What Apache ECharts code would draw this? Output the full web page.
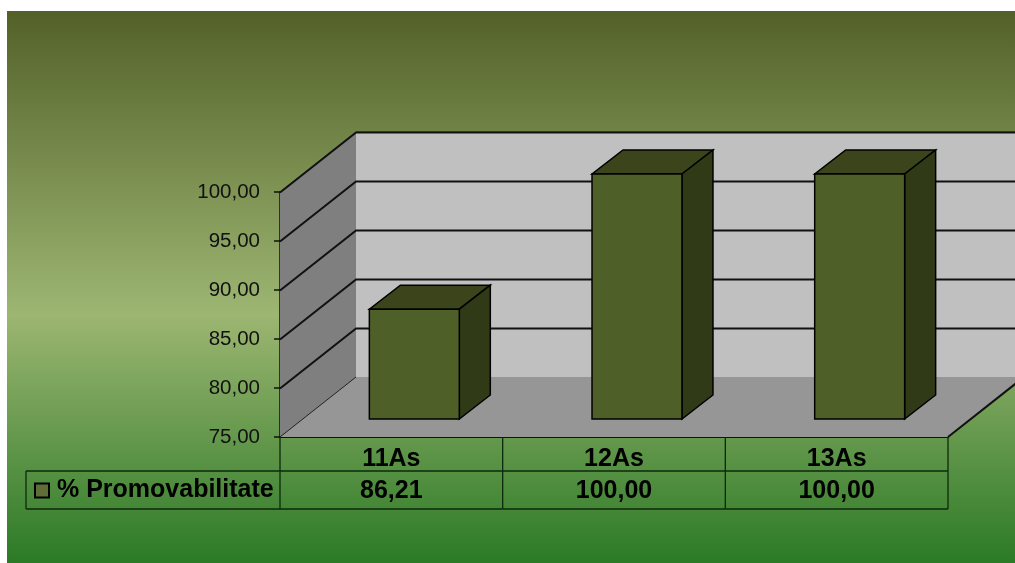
<!DOCTYPE html>
<html>
<head>
<meta charset="utf-8">
<style>html,body{margin:0;padding:0;background:#fff}#c{width:1015px;height:563px}</style>
<script src="https://cdn.jsdelivr.net/npm/echarts@6/dist/echarts.min.js"></script>
</head>
<body>
<div id="c"></div>
<script>
var categories = ['11As', '12As', '13As'];
var promovabilitate = [86.21, 100.00, 100.00];
var seriesName = '% Promovabilitate';
var yMin = 75, yMax = 100, yStep = 5;
var gridValues = [80, 85, 90, 95, 100];

var DEPTH_X = 76, DEPTH_Y = -60;
var BAR_SHIFT_X = 23, BAR_SHIFT_Y = -18, BAR_DX = 31, BAR_DY = -24, BAR_W = 0.404;
var ROW1 = 34, ROW2 = 72, TABLE_LEFT = 26;
var FONT = '"Liberation Sans", Arial, sans-serif';
function fmt(v) { return v.toFixed(2).replace('.', ','); }
function poly(points, fill, stroke, lw) {
  return { type: 'polygon', shape: { points: points }, style: { fill: fill, stroke: stroke || null, lineWidth: lw || 0 } };
}
function line(x1, y1, x2, y2, color, lw) {
  return { type: 'line', shape: { x1: x1, y1: y1, x2: x2, y2: y2 }, style: { stroke: color, lineWidth: lw } };
}

function renderWalls(params, api) {
  var lo = api.coord([0, yMin]), hi = api.coord([0, yMax]);
  var band = api.size([1, 0])[0];
  var x0 = lo[0] - band / 2, x1 = x0 + band * categories.length;
  var yB = lo[1], yT = hi[1];
  return { type: 'group', children: [
    poly([[x0 + DEPTH_X, yT + DEPTH_Y], [x1 + DEPTH_X, yT + DEPTH_Y], [x1 + DEPTH_X, yB + DEPTH_Y], [x0 + DEPTH_X, yB + DEPTH_Y]], '#c0c0c0'),
    poly([[x0, yT], [x0 + DEPTH_X, yT + DEPTH_Y], [x0 + DEPTH_X, yB + DEPTH_Y], [x0, yB]], '#7f7f7f'),
    poly([[x0, yB], [x0 + DEPTH_X, yB + DEPTH_Y], [x1 + DEPTH_X, yB + DEPTH_Y], [x1, yB]], '#969696'),
    line(x0 + DEPTH_X, yT + DEPTH_Y, x1 + DEPTH_X, yT + DEPTH_Y, '#4a4a4a', 1.5),
    line(x0, yT, x0 + DEPTH_X, yT + DEPTH_Y, '#666666', 1),
    line(x0, yB, x0 + DEPTH_X, yB + DEPTH_Y, '#222222', 1),
    line(x1, yB, x1 + DEPTH_X, yB + DEPTH_Y, '#111111', 2)
  ]};
}
function renderGrid(params, api) {
  var p = api.coord([0, api.value(0)]);
  var band = api.size([1, 0])[0];
  var x0 = p[0] - band / 2, x1 = x0 + band * categories.length;
  var y = Math.round(p[1]) + 0.5;
  return { type: 'polyline', shape: { points: [[x0, y], [x0 + DEPTH_X, y + DEPTH_Y], [x1 + DEPTH_X, y + DEPTH_Y]] },
    style: { stroke: '#111111', lineWidth: 2, fill: null } };
}
function renderBar(params, api) {
  var idx = api.value(0);
  var top = api.coord([idx, api.value(1)]);
  var base = api.coord([idx, yMin]);
  var w = api.size([1, 0])[0] * BAR_W;
  var l = top[0] + BAR_SHIFT_X - w / 2, r = l + w;
  var t = top[1] + BAR_SHIFT_Y, b = base[1] + BAR_SHIFT_Y;
  return { type: 'group', children: [
    poly([[l, t], [r, t], [r + BAR_DX, t + BAR_DY], [l + BAR_DX, t + BAR_DY]], '#3b441b', '#000', 1.5),
    poly([[r, t], [r + BAR_DX, t + BAR_DY], [r + BAR_DX, b + BAR_DY], [r, b]], '#313a17', '#000', 1.5),
    poly([[l, t], [r, t], [r, b], [l, b]], '#4f5f28', '#000', 1.5)
  ]};
}
function renderTable(params, api) {
  var idx = api.value(0);
  var base = api.coord([idx, yMin]);
  var band = api.size([1, 0])[0];
  var cx = base[0], y = base[1];
  var kids = [];
  var xL = cx - band / 2, xR = cx + band / 2;
  kids.push(line(xR, y, xR, y + ROW2, '#0c2a0c', 1.3));
  kids.push(line(xL, y + ROW1, xR, y + ROW1, '#0c2a0c', 1.3));
  kids.push(line(xL, y + ROW2, xR, y + ROW2, '#0c2a0c', 1.3));
  if (idx === 0) {
    kids.push(line(xL, y, xL, y + ROW2, '#0c2a0c', 1.3));
    kids.push(line(TABLE_LEFT, y + ROW1, xL, y + ROW1, '#0c2a0c', 1.3));
    kids.push(line(TABLE_LEFT, y + ROW2, xL, y + ROW2, '#0c2a0c', 1.3));
    kids.push(line(TABLE_LEFT, y + ROW1, TABLE_LEFT, y + ROW2, '#0c2a0c', 1.3));
  }
  kids.push({ type: 'text', style: { x: cx, y: y + (ROW1 + ROW2) / 2 + 1, text: fmt(api.value(1)),
    align: 'center', verticalAlign: 'middle', fill: '#000', font: 'bold 25px ' + FONT } });
  return { type: 'group', children: kids };
}

var barData = promovabilitate.map(function (v, i) { return [i, v]; });
var chart = echarts.init(document.getElementById('c'), null, { renderer: 'canvas' });
chart.setOption({
  animation: false,
  backgroundColor: '#ffffff',
  graphic: [{
    type: 'rect', z: -100, shape: { x: 7, y: 11, width: 1008, height: 552 },
    style: { fill: new echarts.graphic.LinearGradient(0, 0, 0, 1, [
      { offset: 0, color: '#536129' }, { offset: 0.55, color: '#9db672' }, { offset: 1, color: '#2b7a26' }
    ]) }
  }],
  grid: { left: 280, right: 67, top: 192, bottom: 126, containLabel: false },
  legend: {
    left: 34, top: 478, padding: 0, itemWidth: 14, itemHeight: 14, itemGap: 0,
    icon: 'rect', data: [seriesName], selectedMode: false,
    itemStyle: { color: '#5f6e38', borderColor: '#000', borderWidth: 2 },
    textStyle: { color: '#000', fontFamily: FONT, fontWeight: 'bold', fontSize: 25, padding: [0, 0, 0, 3] }
  },
  xAxis: {
    type: 'category', data: categories, boundaryGap: true,
    axisLine: { show: true, lineStyle: { color: '#111', width: 2 } },
    axisTick: { show: false }, splitLine: { show: false },
    axisLabel: { color: '#000', fontFamily: FONT, fontWeight: 'bold', fontSize: 25, margin: 10 }
  },
  yAxis: {
    type: 'value', min: yMin, max: yMax, interval: yStep,
    axisLine: { show: true, lineStyle: { color: '#111', width: 1.5 } },
    axisTick: { show: true, length: 6, lineStyle: { color: '#111', width: 1.5 } },
    splitLine: { show: false },
    axisLabel: { color: '#111', fontFamily: FONT, fontSize: 20.5, margin: 20, formatter: fmt }
  },
  series: [
    { type: 'custom', name: 'walls', silent: true, clip: false, z: 1, renderItem: renderWalls, data: [[yMin]], encode: { y: 0 } },
    { type: 'custom', name: 'gridlines', silent: true, clip: false, z: 2, renderItem: renderGrid, data: gridValues.map(function (v) { return [v]; }), encode: { y: 0 } },
    { type: 'custom', name: seriesName, clip: false, z: 3, renderItem: renderBar, data: barData, encode: { x: 0, y: 1 } },
    { type: 'custom', name: 'table', silent: true, clip: false, z: 4, renderItem: renderTable, data: barData, encode: { x: 0, y: 1 } }
  ]
});
</script>
</body>
</html>
